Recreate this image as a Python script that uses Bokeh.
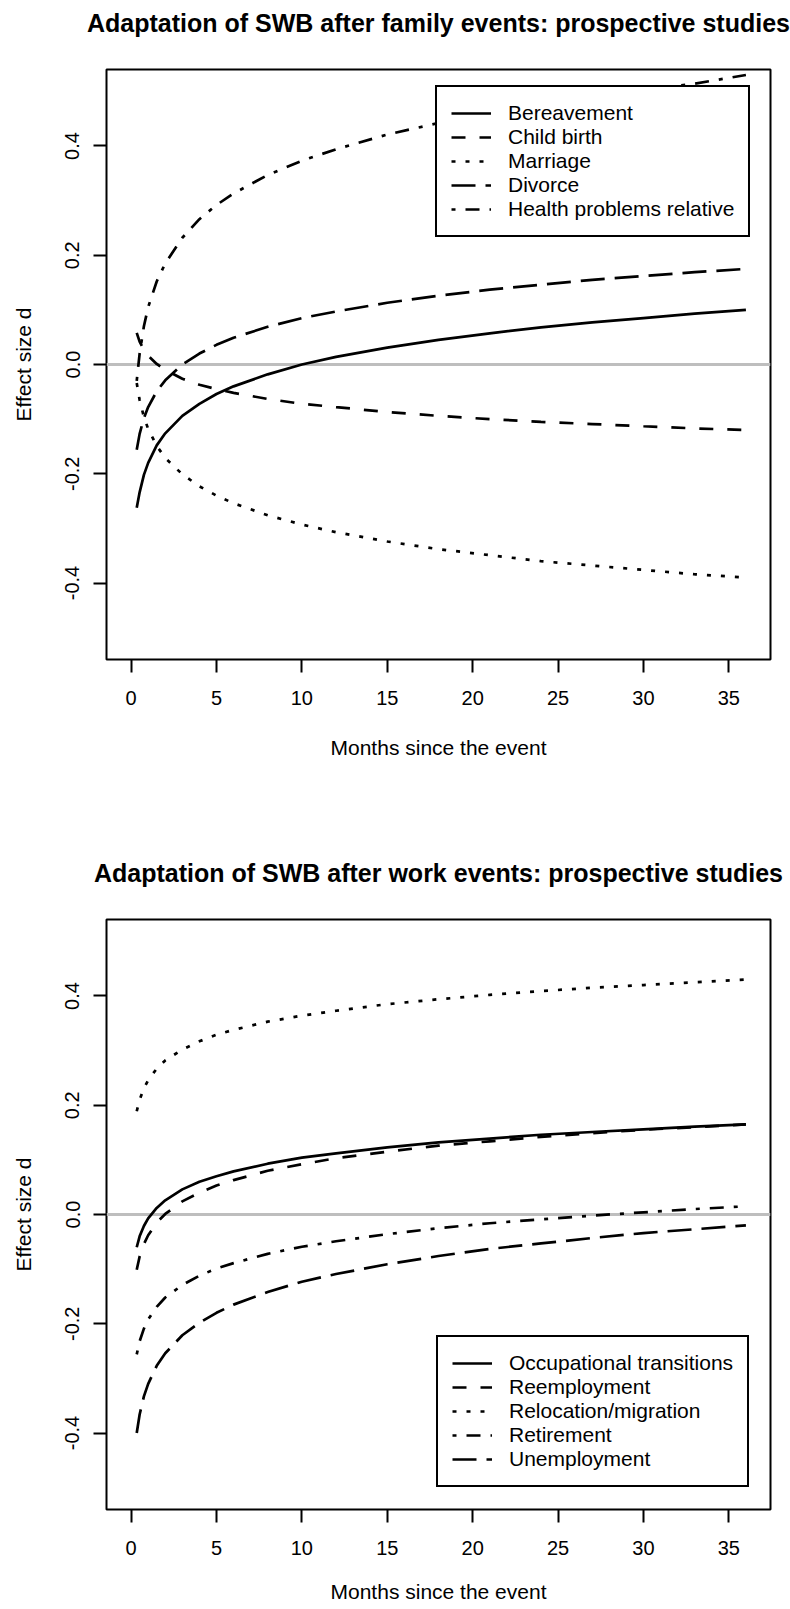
from bokeh.plotting import figure
from bokeh.layouts import column
from bokeh.models import Legend, LegendItem, Span, FixedTicker, PrintfTickFormatter
from bokeh.embed import file_html
from bokeh.resources import INLINE

# ---------------- data ----------------
months = [0.33, 0.5, 0.75, 1, 1.5, 2, 3, 4, 5, 6, 8, 10, 12, 15, 18, 21, 24, 27, 30, 33, 36]

family_labels = ["Bereavement", "Child birth", "Marriage", "Divorce", "Health problems relative"]
bereavement = [-0.262, -0.234, -0.202, -0.180, -0.148, -0.126, -0.094, -0.072, -0.054, -0.040, -0.018,
               0.000, 0.014, 0.031, 0.045, 0.057, 0.068, 0.077, 0.085, 0.093, 0.100]
child_birth = [0.058, 0.042, 0.027, 0.016, 0.001, -0.010, -0.026, -0.037, -0.045, -0.052, -0.063,
               -0.072, -0.078, -0.087, -0.094, -0.100, -0.105, -0.109, -0.113, -0.117, -0.120]
marriage = [-0.034, -0.065, -0.096, -0.118, -0.149, -0.171, -0.201, -0.223, -0.240, -0.254, -0.276,
            -0.293, -0.307, -0.324, -0.338, -0.349, -0.360, -0.368, -0.376, -0.384, -0.390]
divorce = [-0.156, -0.127, -0.098, -0.078, -0.049, -0.029, 0.000, 0.020, 0.036, 0.049, 0.069,
           0.085, 0.097, 0.113, 0.126, 0.137, 0.146, 0.155, 0.162, 0.169, 0.175]
health_relative = [-0.030, 0.020, 0.070, 0.105, 0.152, 0.185, 0.232, 0.266, 0.292, 0.313, 0.347,
                   0.373, 0.394, 0.421, 0.442, 0.460, 0.476, 0.490, 0.503, 0.514, 0.530]

work_labels = ["Occupational transitions", "Reemployment", "Relocation/migration", "Retirement", "Unemployment"]
occupational = [-0.060, -0.040, -0.021, -0.007, 0.012, 0.026, 0.046, 0.060, 0.070, 0.079, 0.093,
                0.104, 0.112, 0.123, 0.132, 0.139, 0.146, 0.151, 0.156, 0.161, 0.165]
reemployment = [-0.101, -0.077, -0.054, -0.038, -0.015, 0.001, 0.024, 0.040, 0.053, 0.063, 0.080,
                0.092, 0.103, 0.115, 0.126, 0.134, 0.142, 0.149, 0.155, 0.160, 0.165]
relocation = [0.189, 0.210, 0.231, 0.246, 0.267, 0.282, 0.302, 0.317, 0.329, 0.338, 0.353,
              0.364, 0.373, 0.385, 0.394, 0.402, 0.409, 0.415, 0.420, 0.425, 0.430]
retirement = [-0.256, -0.232, -0.209, -0.192, -0.169, -0.152, -0.129, -0.112, -0.099, -0.089, -0.072,
              -0.059, -0.049, -0.036, -0.025, -0.016, -0.009, -0.002, 0.004, 0.010, 0.015]
unemployment = [-0.400, -0.366, -0.333, -0.310, -0.277, -0.254, -0.221, -0.198, -0.180, -0.165, -0.142,
                -0.123, -0.109, -0.091, -0.076, -0.063, -0.053, -0.043, -0.034, -0.027, -0.020]

x_ticks = [0, 5, 10, 15, 20, 25, 30, 35]
y_ticks = [-0.4, -0.2, 0.0, 0.2, 0.4]

FONT = "Liberation Sans"
PAGE_W = 790
FRAME_W, FRAME_H = 664, 590
BORDER_L = 106
BORDER_R = PAGE_W - BORDER_L - FRAME_W

SOLID, DASHED, DOTTED, DOTDASH, LONGDASH = "solid", "14 14", "4 10", "4 10 14 10", "24 10"


def title_fig(text, height):
    # a thin strip whose (empty) frame lines up with the chart box; the title sits just above it
    t = figure(width=PAGE_W, height=height, frame_width=FRAME_W, frame_height=4,
               x_range=(0, 1), y_range=(0, 1),
               output_backend="svg", toolbar_location=None,
               x_axis_location=None, y_axis_location=None,
               min_border_left=BORDER_L, min_border_right=BORDER_R,
               min_border_top=height - 4, min_border_bottom=0)
    t.outline_line_color = None
    t.xgrid.visible = False
    t.ygrid.visible = False
    t.background_fill_color = "white"
    t.border_fill_color = "white"
    t.title.text = text
    t.title.align = "center"
    t.title.standoff = 0
    t.title.text_font = FONT
    t.title.text_font_size = "25px"
    t.title.text_font_style = "bold"
    t.title.text_color = "black"
    return t


def make_fig(series, labels, dashes, legend_loc, height, border_top, axis_label_standoff):
    border_bottom = height - border_top - FRAME_H
    p = figure(width=PAGE_W, height=height, frame_width=FRAME_W, frame_height=FRAME_H,
               x_range=(-1.44, 37.44), y_range=(-0.54, 0.54),
               output_backend="svg", toolbar_location=None,
               min_border_left=BORDER_L, min_border_right=BORDER_R,
               min_border_top=border_top, min_border_bottom=border_bottom)

    p.outline_line_color = "black"
    p.outline_line_width = 2
    p.xgrid.visible = False
    p.ygrid.visible = False
    p.background_fill_color = "white"
    p.border_fill_color = "white"

    for ax in (p.xaxis, p.yaxis):
        ax.axis_line_color = None
        ax.major_tick_line_color = "black"
        ax.major_tick_line_width = 2
        ax.major_tick_out = 13
        ax.major_tick_in = 0
        ax.minor_tick_line_color = None
        ax.major_label_text_font = FONT
        ax.major_label_text_font_size = "20px"
        ax.major_label_text_color = "black"
        ax.axis_label_text_font = FONT
        ax.axis_label_text_font_size = "21px"
        ax.axis_label_text_font_style = "normal"
        ax.axis_label_text_color = "black"

    p.xaxis.ticker = FixedTicker(ticks=x_ticks)
    p.yaxis.ticker = FixedTicker(ticks=y_ticks)
    p.yaxis.formatter = PrintfTickFormatter(format="%.1f")
    p.yaxis.major_label_orientation = "vertical"
    p.xaxis.axis_label = "Months since the event"
    p.yaxis.axis_label = "Effect size d"
    p.xaxis.major_label_standoff = 18
    p.xaxis.axis_label_standoff = axis_label_standoff
    p.yaxis.major_label_standoff = 14
    p.yaxis.axis_label_standoff = 28

    p.add_layout(Span(location=0, dimension="width", line_color="#bebebe",
                      line_width=3, level="underlay"))

    items = []
    for ys, lab, dash in zip(series, labels, dashes):
        r = p.line(months, ys, line_color="black", line_width=2.7, line_dash=dash, line_cap="butt")
        items.append(LegendItem(label=lab, renderers=[r]))

    legend = Legend(items=items, location=legend_loc, orientation="vertical",
                    border_line_color="black", border_line_width=2, border_line_alpha=1.0,
                    background_fill_color="white", background_fill_alpha=1.0,
                    padding=14, spacing=0, margin=0,
                    label_height=24, glyph_height=24, glyph_width=40, label_standoff=17,
                    label_text_font=FONT, label_text_font_size="21px", label_text_color="black")
    p.add_layout(legend)
    return p


t1 = title_fig("Adaptation of SWB after family events: prospective studies", 40)
p1 = make_fig([bereavement, child_birth, marriage, divorce, health_relative],
              family_labels, [SOLID, DASHED, DOTTED, LONGDASH, DOTDASH],
              (329, 422), 760, 29, 28)

t2 = title_fig("Adaptation of SWB after work events: prospective studies", 90)
p2 = make_fig([occupational, reemployment, relocation, retirement, unemployment],
              work_labels, [SOLID, DASHED, DOTTED, DOTDASH, LONGDASH],
              (330, 22), 719, 29, 22)

layout = column(t1, p1, t2, p2, spacing=0)
open("out.html", "w").write(file_html(layout, INLINE))
